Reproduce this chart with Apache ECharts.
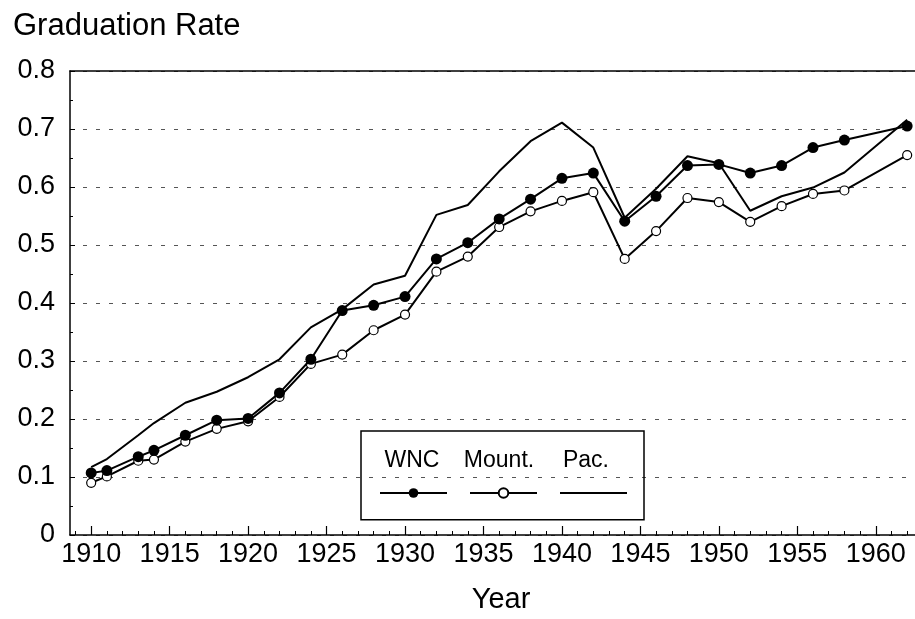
<!DOCTYPE html>
<html>
<head>
<meta charset="utf-8">
<title>Graduation Rate</title>
<script src="https://cdn.jsdelivr.net/npm/echarts@6/dist/echarts.min.js"></script>
<style>
  html, body {
    margin: 0;
    padding: 0;
    background: #fff;
  }
  #chart {
    width: 915px;
    height: 619px;
  }
</style>
</head>
<body>
<div id="chart"></div>
<script>
// years where the three regions were observed
const years = [1910, 1911, 1913, 1914, 1916, 1918, 1920, 1922, 1924, 1926, 1928, 1930, 1932, 1934,
  1936, 1938, 1940, 1942, 1944, 1946, 1948, 1950, 1952, 1954, 1956, 1958, 1962]

const wncRate = [0.107, 0.111, 0.135, 0.146, 0.172, 0.198, 0.201, 0.245, 0.303, 0.387, 0.396, 0.411, 0.476, 0.504,
  0.545, 0.579, 0.615, 0.624, 0.541, 0.584, 0.637, 0.639, 0.624, 0.637, 0.668, 0.681, 0.705]

const mountRate = [0.09, 0.101, 0.128, 0.13, 0.161, 0.183, 0.196, 0.238, 0.295, 0.311, 0.353, 0.38, 0.454, 0.48,
  0.531, 0.558, 0.576, 0.591, 0.476, 0.524, 0.581, 0.574, 0.54, 0.567, 0.588, 0.594, 0.655]

const pacRate = [0.117, 0.131, 0.172, 0.193, 0.228, 0.247, 0.272, 0.303, 0.358, 0.389, 0.432, 0.447, 0.552, 0.569,
  0.627, 0.679, 0.711, 0.668, 0.547, 0.597, 0.653, 0.641, 0.559, 0.584, 0.599, 0.625, 0.716]

const legendNames = ['WNC', 'Mount.', 'Pac.']
const yearLabels = [1910, 1915, 1920, 1925, 1930, 1935, 1940, 1945, 1950, 1955, 1960]
const yearTicks = [1909, 1910, 1911, 1912, 1913, 1914, 1915, 1916, 1917, 1918, 1919, 1920, 1921, 1922, 1923,
  1924, 1925, 1926, 1927, 1928, 1929, 1930, 1931, 1932, 1933, 1934, 1935, 1936, 1937, 1938, 1939, 1940,
  1941, 1942, 1943, 1944, 1945, 1946, 1947, 1948, 1949, 1950, 1951, 1952, 1953, 1954, 1955, 1956, 1957,
  1958, 1959, 1960, 1961, 1962]

const font = 'Liberation Sans, Arial, Helvetica, sans-serif'
const xMin = 1908.65
const xMax = 1962.5

function pairs (values) {
  return years.map((yr, i) => [yr, values[i]])
}

// legend names sit above the line samples, so they are drawn as plain text
const legendTextX = [412, 499, 586]

const chart = echarts.init(document.getElementById('chart'), null, { renderer: 'canvas' })

const option = {
  backgroundColor: '#fff',
  animation: false,
  textStyle: { fontFamily: font, color: '#000' },
  title: {
    text: 'Graduation Rate',
    left: 8,
    top: 6,
    textStyle: { fontFamily: font, fontSize: 31, fontWeight: 'normal', color: '#000' }
  },
  grid: {
    left: 70,
    right: 0,
    top: 71,
    bottom: 80.5
  },
  legend: {
    data: [
      { name: 'WNC' },
      { name: 'Mount.' },
      { name: 'Pac.', itemStyle: { opacity: 0 } }
    ],
    left: 361,
    top: 431,
    orient: 'horizontal',
    padding: [56, 16, 21, 18],
    itemWidth: 67,
    itemHeight: 12,
    itemGap: 21,
    textGap: 0,
    borderColor: '#000',
    borderWidth: 1.5,
    formatter: () => '',
    selectedMode: false
  },
  graphic: legendNames.map((name, i) => ({
    type: 'text',
    x: legendTextX[i],
    y: 461,
    style: { text: name, font: '23px ' + font, fill: '#000', align: 'center', verticalAlign: 'middle' }
  })),
  xAxis: [
    {
      type: 'value',
      min: xMin,
      max: xMax,
      position: 'bottom',
      axisLine: { show: true, lineStyle: { color: '#000', width: 1.5 } },
      axisTick: { show: true, inside: true, length: 9, customValues: yearLabels, lineStyle: { color: '#000', width: 1.2 } },
      axisLabel: {
        customValues: yearLabels,
        fontSize: 27,
        margin: 6,
        color: '#000',
        fontFamily: font,
        formatter: val => String(val)
      },
      splitLine: { show: false },
      name: 'Year',
      nameLocation: 'middle',
      nameGap: 50,
      nameTextStyle: { fontSize: 29, color: '#000', fontFamily: font, padding: [0, 0, 0, 17] }
    },
    {
      // small yearly ticks
      type: 'value',
      min: xMin,
      max: xMax,
      position: 'bottom',
      axisLine: { show: false },
      axisTick: { show: true, inside: true, length: 4, customValues: yearTicks, lineStyle: { color: '#000', width: 1 } },
      axisLabel: { show: false },
      splitLine: { show: false }
    },
    {
      type: 'value',
      min: xMin,
      max: xMax,
      position: 'top',
      axisLine: { show: true, lineStyle: { color: '#000', width: 1.5 } },
      axisTick: { show: false },
      axisLabel: { show: false },
      splitLine: { show: false }
    }
  ],
  yAxis: {
    type: 'value',
    min: 0,
    max: 0.8,
    interval: 0.1,
    axisLine: { show: true, lineStyle: { color: '#000', width: 1.5 } },
    axisTick: { show: true, inside: true, length: 5, lineStyle: { color: '#000', width: 1 } },
    minorTick: { show: true, splitNumber: 2, length: 3, lineStyle: { color: '#000', width: 1 } },
    axisLabel: { fontSize: 27, margin: 15, color: '#000', fontFamily: font },
    splitLine: { show: true, lineStyle: { color: '#555', width: 1, type: [4, 9] } }
  },
  series: [
    {
      name: 'Pac.',
      type: 'line',
      data: pairs(pacRate),
      symbol: 'none',
      lineStyle: { color: '#000', width: 2 },
      itemStyle: { color: '#000' },
      z: 2
    },
    {
      name: 'Mount.',
      type: 'line',
      data: pairs(mountRate),
      symbol: 'circle',
      symbolSize: 9,
      lineStyle: { color: '#000', width: 2 },
      itemStyle: { color: '#fff', borderColor: '#000', borderWidth: 1.2 },
      z: 3
    },
    {
      name: 'WNC',
      type: 'line',
      data: pairs(wncRate),
      symbol: 'circle',
      symbolSize: 11,
      lineStyle: { color: '#000', width: 2 },
      itemStyle: { color: '#000' },
      z: 4
    }
  ]
}

chart.setOption(option)
</script>
</body>
</html>
